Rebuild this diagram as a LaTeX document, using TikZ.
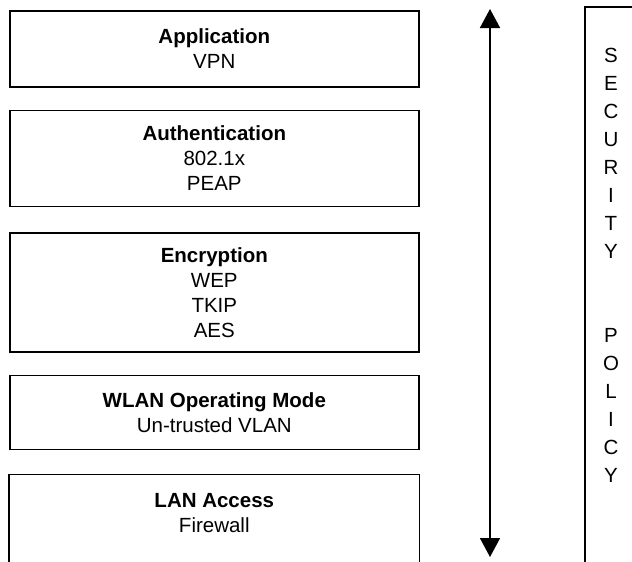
\documentclass[tikz,border=0pt]{standalone}
\usepackage{fontspec}
\setmainfont{Liberation Sans}
\usepackage{tikz}
\usetikzlibrary{arrows.meta,positioning}
\tikzset{
    layer/.style={rectangle, draw=black, line width=1.6pt,
        minimum width=409pt, align=center, inner sep=0pt,
        font=\fontsize{20.5}{25}\selectfont},
    policytxt/.style={align=center, inner sep=0pt,
        font=\fontsize{20.5}{28}\selectfont},
    frame/.style={draw=black, line width=1.6pt},
    span/.style={{Triangle[length=19pt,width=20pt]}-{Triangle[length=19pt,width=20pt]}, line width=1.6pt}
}

\begin{document}
\begin{tikzpicture}[x=1pt, y=-1pt]
        \clip (0,0) rectangle (632,562);
        \node[layer, minimum height=76pt, anchor=north west] (app) at (9,10) {\textbf{Application}\\VPN};
        \node[layer, minimum height=96pt, below=22pt of app] (auth) {\textbf{Authentication}\\802.1x\\PEAP};
        \node[layer, minimum height=119pt, below=25pt of auth] (enc) {\textbf{Encryption}\\WEP\\TKIP\\AES};
        \node[layer, minimum height=74pt, below=22pt of enc] (wlan) {\textbf{WLAN Operating Mode}\\Un-trusted VLAN};
        \node[layer, draw=none, minimum height=76pt, below=24pt of wlan] (lan) {\textbf{LAN Access}\\Firewall};
        \draw[frame] ([yshift=-60pt]lan.south west) |- (lan.north east) -- ([yshift=-60pt]lan.south east);
        % scope arrow
        \coordinate (up) at (490,9);
        \coordinate (down) at (490,557);
        \draw[span] (up) -- (down);
        % policy column
        \draw[frame] (585,600) |- (660,7);
        \node[policytxt, anchor=north] (policy) at (611,48) {S\\E\\C\\U\\R\\I\\T\\Y\\[56pt]P\\O\\L\\I\\C\\Y};
    \end{tikzpicture}
\end{document}
